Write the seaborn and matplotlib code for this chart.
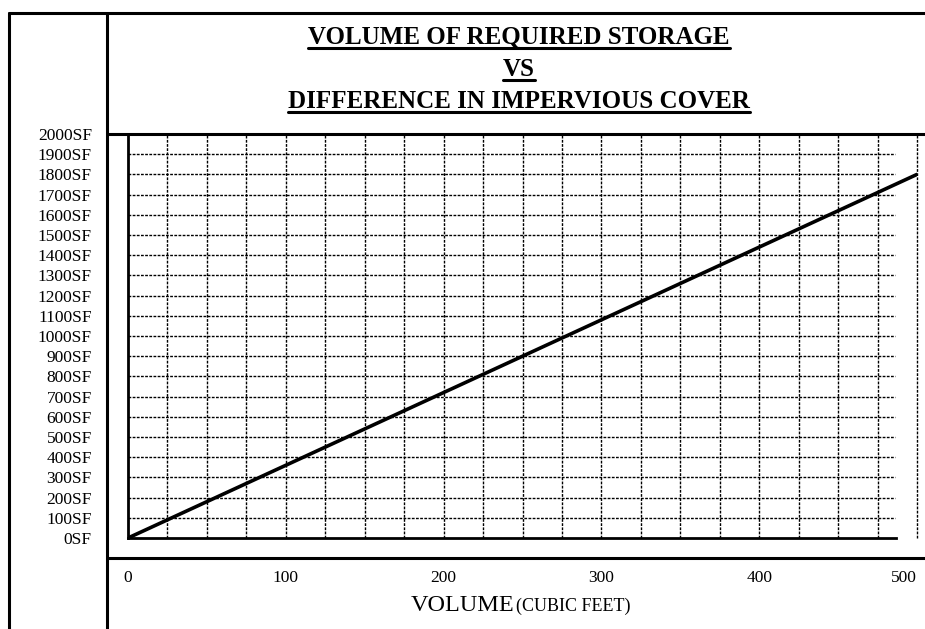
import matplotlib
matplotlib.use("Agg")
import matplotlib.pyplot as plt
from matplotlib.lines import Line2D
import seaborn as sns
import pandas as pd

# volume of required storage vs difference in impervious cover
volume_cf = [0, 500]
impervious_sf = [0, 1800]

y_ticks = list(range(0, 2001, 100))
y_labels = [f"{v}SF" for v in y_ticks]
x_ticks = [0, 100, 200, 300, 400, 500]
x_grid = list(range(25, 501, 25))
title_lines = ["VOLUME OF REQUIRED STORAGE", "VS", "DIFFERENCE IN IMPERVIOUS COVER"]

sns.set_style("white")
plt.rcParams['font.family'] = ['Liberation Serif', 'DejaVu Serif']
plt.rcParams['text.color'] = 'black'
plt.rcParams['xtick.color'] = 'black'
plt.rcParams['ytick.color'] = 'black'

W, H = 925, 629
fig = plt.figure(figsize=(W / 100, H / 100), dpi=100)
ax = fig.add_axes([128 / W, 1 - 538 / H, (917 - 128) / W, (538 - 134) / H])

df = pd.DataFrame({"volume": volume_cf, "area": impervious_sf})
sns.lineplot(data=df, x="volume", y="area", ax=ax, color="black", lw=2.6)

ax.set_xlim(0, 500)
ax.set_ylim(0, 2000)

# dotted grid, horizontal lines stop short of the right edge
ax.hlines(y_ticks[1:], 0, 486, colors="black", linestyles=(0, (2, 1)), lw=1.0, zorder=1)
ax.vlines(x_grid, 0, 2000, colors="black", linestyles=(0, (2, 1)), lw=1.0, zorder=1,
          clip_on=False)

ax.set_yticks(y_ticks)
ax.set_yticklabels(y_labels, fontsize=12.5)
ax.set_xticks(x_ticks)
ax.set_xticklabels([str(v) for v in x_ticks], fontsize=12.5)
ax.get_xticklabels()[-1].set_horizontalalignment("right")
ax.tick_params(axis="y", length=0, pad=26)
ax.tick_params(axis="x", length=0, pad=23)
ax.set_xlabel("")
ax.set_ylabel("")

for s in ["top", "right"]:
    ax.spines[s].set_visible(False)
ax.spines["left"].set_linewidth(2)
ax.spines["bottom"].set_linewidth(2)
ax.spines["bottom"].set_bounds(0, 487)
ax.spines["left"].set_color("black")
ax.spines["bottom"].set_color("black")

# x axis label with smaller parenthetical
fig.text(514 / W, 1 - 611 / H, "VOLUME", fontsize=17.5, ha="right", va="baseline")
fig.text(516 / W, 1 - 611 / H, "(CUBIC FEET)", fontsize=13, ha="left", va="baseline")

# table frame lines (pixel coords)
def hline(y, x0, x1, lw=2.2):
    fig.add_artist(Line2D([x0 / W, x1 / W], [1 - y / H, 1 - y / H], color="black", lw=lw))

def vline(x, y0, y1, lw=2.2):
    fig.add_artist(Line2D([x / W, x / W], [1 - y0 / H, 1 - y1 / H], color="black", lw=lw))

hline(13, 9, W)
hline(134, 107, W)
hline(558, 107, W)
vline(9, 13, H)
vline(107, 13, H)

# underlined title
renderer = fig.canvas.get_renderer()
for i, line in enumerate(title_lines):
    yb = 44 + i * 32
    t = fig.text(519 / W, 1 - yb / H, line, fontsize=18, fontweight="bold",
                 ha="center", va="baseline")
    bb = t.get_window_extent(renderer)
    hline(yb + 4, bb.x0, bb.x1, lw=2.2)

fig.savefig("out.png", dpi=100)
